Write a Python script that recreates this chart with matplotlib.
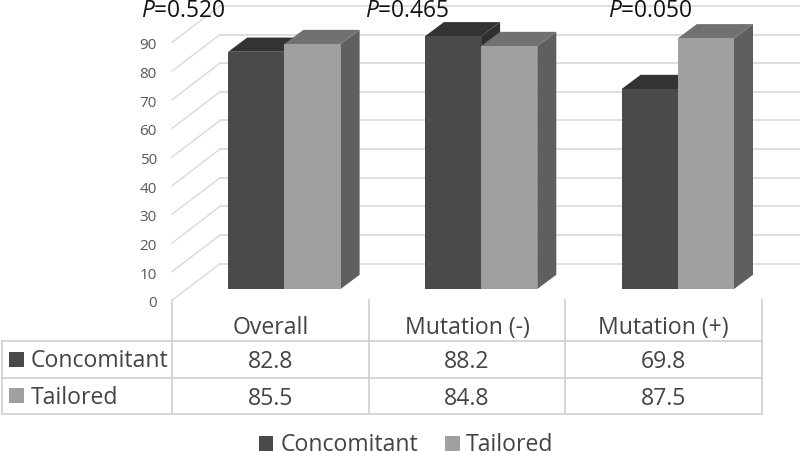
import matplotlib
matplotlib.use("Agg")
import matplotlib.pyplot as plt
from matplotlib.patches import Polygon, Rectangle

categories = ["Overall", "Mutation (-)", "Mutation (+)"]
concomitant = [82.8, 88.2, 69.8]
tailored = [85.5, 84.8, 87.5]
p_values = ["0.520", "0.465", "0.050"]
y_ticks = [0, 10, 20, 30, 40, 50, 60, 70, 80, 90]
series_names = ["Concomitant", "Tailored"]

plt.rcParams["font.family"] = "Open Sans"
plt.rcParams["mathtext.fontset"] = "custom"
plt.rcParams["mathtext.it"] = "Open Sans:italic"
plt.rcParams["mathtext.rm"] = "Open Sans"

W, H = 800, 452
PX_PER_VALUE = 2.865
PX_PER_CAT = 196.7
BASE_Y = 290
FIRST_X = 284.4   # where the two bars of the first group meet

TEXT_GREY = "#444444"
TICK_GREY = "#595959"
GRID = "#d9d9d9"
TABLE = "#cfcfcf"
DARK = ("#4a4a4a", "#333333", "#2f2f2f")    # front, top, side
LIGHT = ("#a0a0a0", "#717171", "#5f5f5f")
TABLE_SIZE = 16.6

fig = plt.figure(figsize=(W / 100, H / 100), dpi=100)

# data axes: x in category units, y in chart values, filling the whole figure
ax = fig.add_axes([0, 0, 1, 1])
ax.set_xlim(-FIRST_X / PX_PER_CAT, (W - FIRST_X) / PX_PER_CAT)
ax.set_ylim(-(H - BASE_Y) / PX_PER_VALUE, BASE_Y / PX_PER_VALUE)
ax.axis("off")

bar_w = 56.2 / PX_PER_CAT
dx = 19 / PX_PER_CAT
dy = 14.2 / PX_PER_VALUE

# floor offsets of the gridlines, front edge and back wall
front_x = (172 - FIRST_X) / PX_PER_CAT
back_x = (220 - FIRST_X) / PX_PER_CAT
right_x = (W - FIRST_X) / PX_PER_CAT
front_y = -(301.3 - BASE_Y) / PX_PER_VALUE
back_y = (BASE_Y - 264.7) / PX_PER_VALUE

for t in y_ticks:
    ax.plot([front_x, back_x], [front_y + t, back_y + t], color=GRID, lw=1, zorder=1)
    ax.plot([back_x, right_x], [back_y + t, back_y + t], color=GRID, lw=1.2, zorder=1)
    ax.text(front_x - 15 / PX_PER_CAT, front_y + t - 6 / PX_PER_VALUE, str(t), ha="right", va="baseline",
            fontsize=11, color=TICK_GREY, zorder=5)


def draw_bar(left, value, cols):
    right = left + bar_w
    ax.add_patch(Polygon([(right, 0), (right + dx, dy), (right + dx, value + dy), (right, value)],
                         facecolor=cols[2], edgecolor="none", zorder=3))
    ax.add_patch(Polygon([(left, value), (left + dx, value + dy), (right + dx, value + dy), (right, value)],
                         facecolor=cols[1], edgecolor="none", zorder=3))
    ax.bar(left, value, width=bar_w, align="edge", color=cols[0], edgecolor="none", zorder=3)


for i in range(len(categories)):
    draw_bar(i - bar_w, concomitant[i], DARK)
    draw_bar(i, tailored[i], LIGHT)

# overlay axes in image pixels for the table, legend and P labels
ov = fig.add_axes([0, 0, 1, 1])
ov.set_xlim(0, W)
ov.set_ylim(H, 0)
ov.axis("off")
ov.patch.set_alpha(0)

col_x = [172, 368.7, 565.3, 761.7]
row_y = [342, 378.7, 415.3]
for x in col_x:
    ov.plot([x, x], [301.3, 415.3], color=TABLE, lw=1.2)
ov.plot([2, 2], [342, 415.3], color=TABLE, lw=1.2)
for y in row_y:
    ov.plot([2, 761.7], [y, y], color=TABLE, lw=1.2)

col_centers = [270.5, 467, 663.5]
for i, name in enumerate(categories):
    ov.text(col_centers[i], 334.3, name, ha="center", va="baseline", fontsize=TABLE_SIZE, color=TEXT_GREY)
    ov.text(col_centers[i], 367.6, f"{concomitant[i]:.1f}", ha="center", va="baseline", fontsize=TABLE_SIZE, color=TEXT_GREY)
    ov.text(col_centers[i], 404.8, f"{tailored[i]:.1f}", ha="center", va="baseline", fontsize=TABLE_SIZE, color=TEXT_GREY)

p_x = [141, 365, 608]
for x, p in zip(p_x, p_values):
    ov.text(x, 17, f"$P$={p}", ha="left", va="baseline", fontsize=16.4, color="#111111")

# series keys in the table
ov.add_patch(Rectangle((8.7, 352.7), 15, 15, facecolor=DARK[0], edgecolor="none"))
ov.add_patch(Rectangle((8.7, 389.3), 15, 15, facecolor=LIGHT[0], edgecolor="none"))
ov.text(30.5, 367, series_names[0], ha="left", va="baseline", fontsize=TABLE_SIZE, color=TEXT_GREY)
ov.text(30.5, 404.3, series_names[1], ha="left", va="baseline", fontsize=TABLE_SIZE, color=TEXT_GREY)

# legend at the bottom
ov.add_patch(Rectangle((258.7, 437.3), 14.6, 14.6, facecolor=DARK[0], edgecolor="none"))
ov.add_patch(Rectangle((445, 437.3), 14.6, 14.6, facecolor=LIGHT[0], edgecolor="none"))
ov.text(281, 451, series_names[0], ha="left", va="baseline", fontsize=TABLE_SIZE, color=TEXT_GREY)
ov.text(466, 451, series_names[1], ha="left", va="baseline", fontsize=TABLE_SIZE, color=TEXT_GREY)

fig.savefig("out.png", dpi=100)
